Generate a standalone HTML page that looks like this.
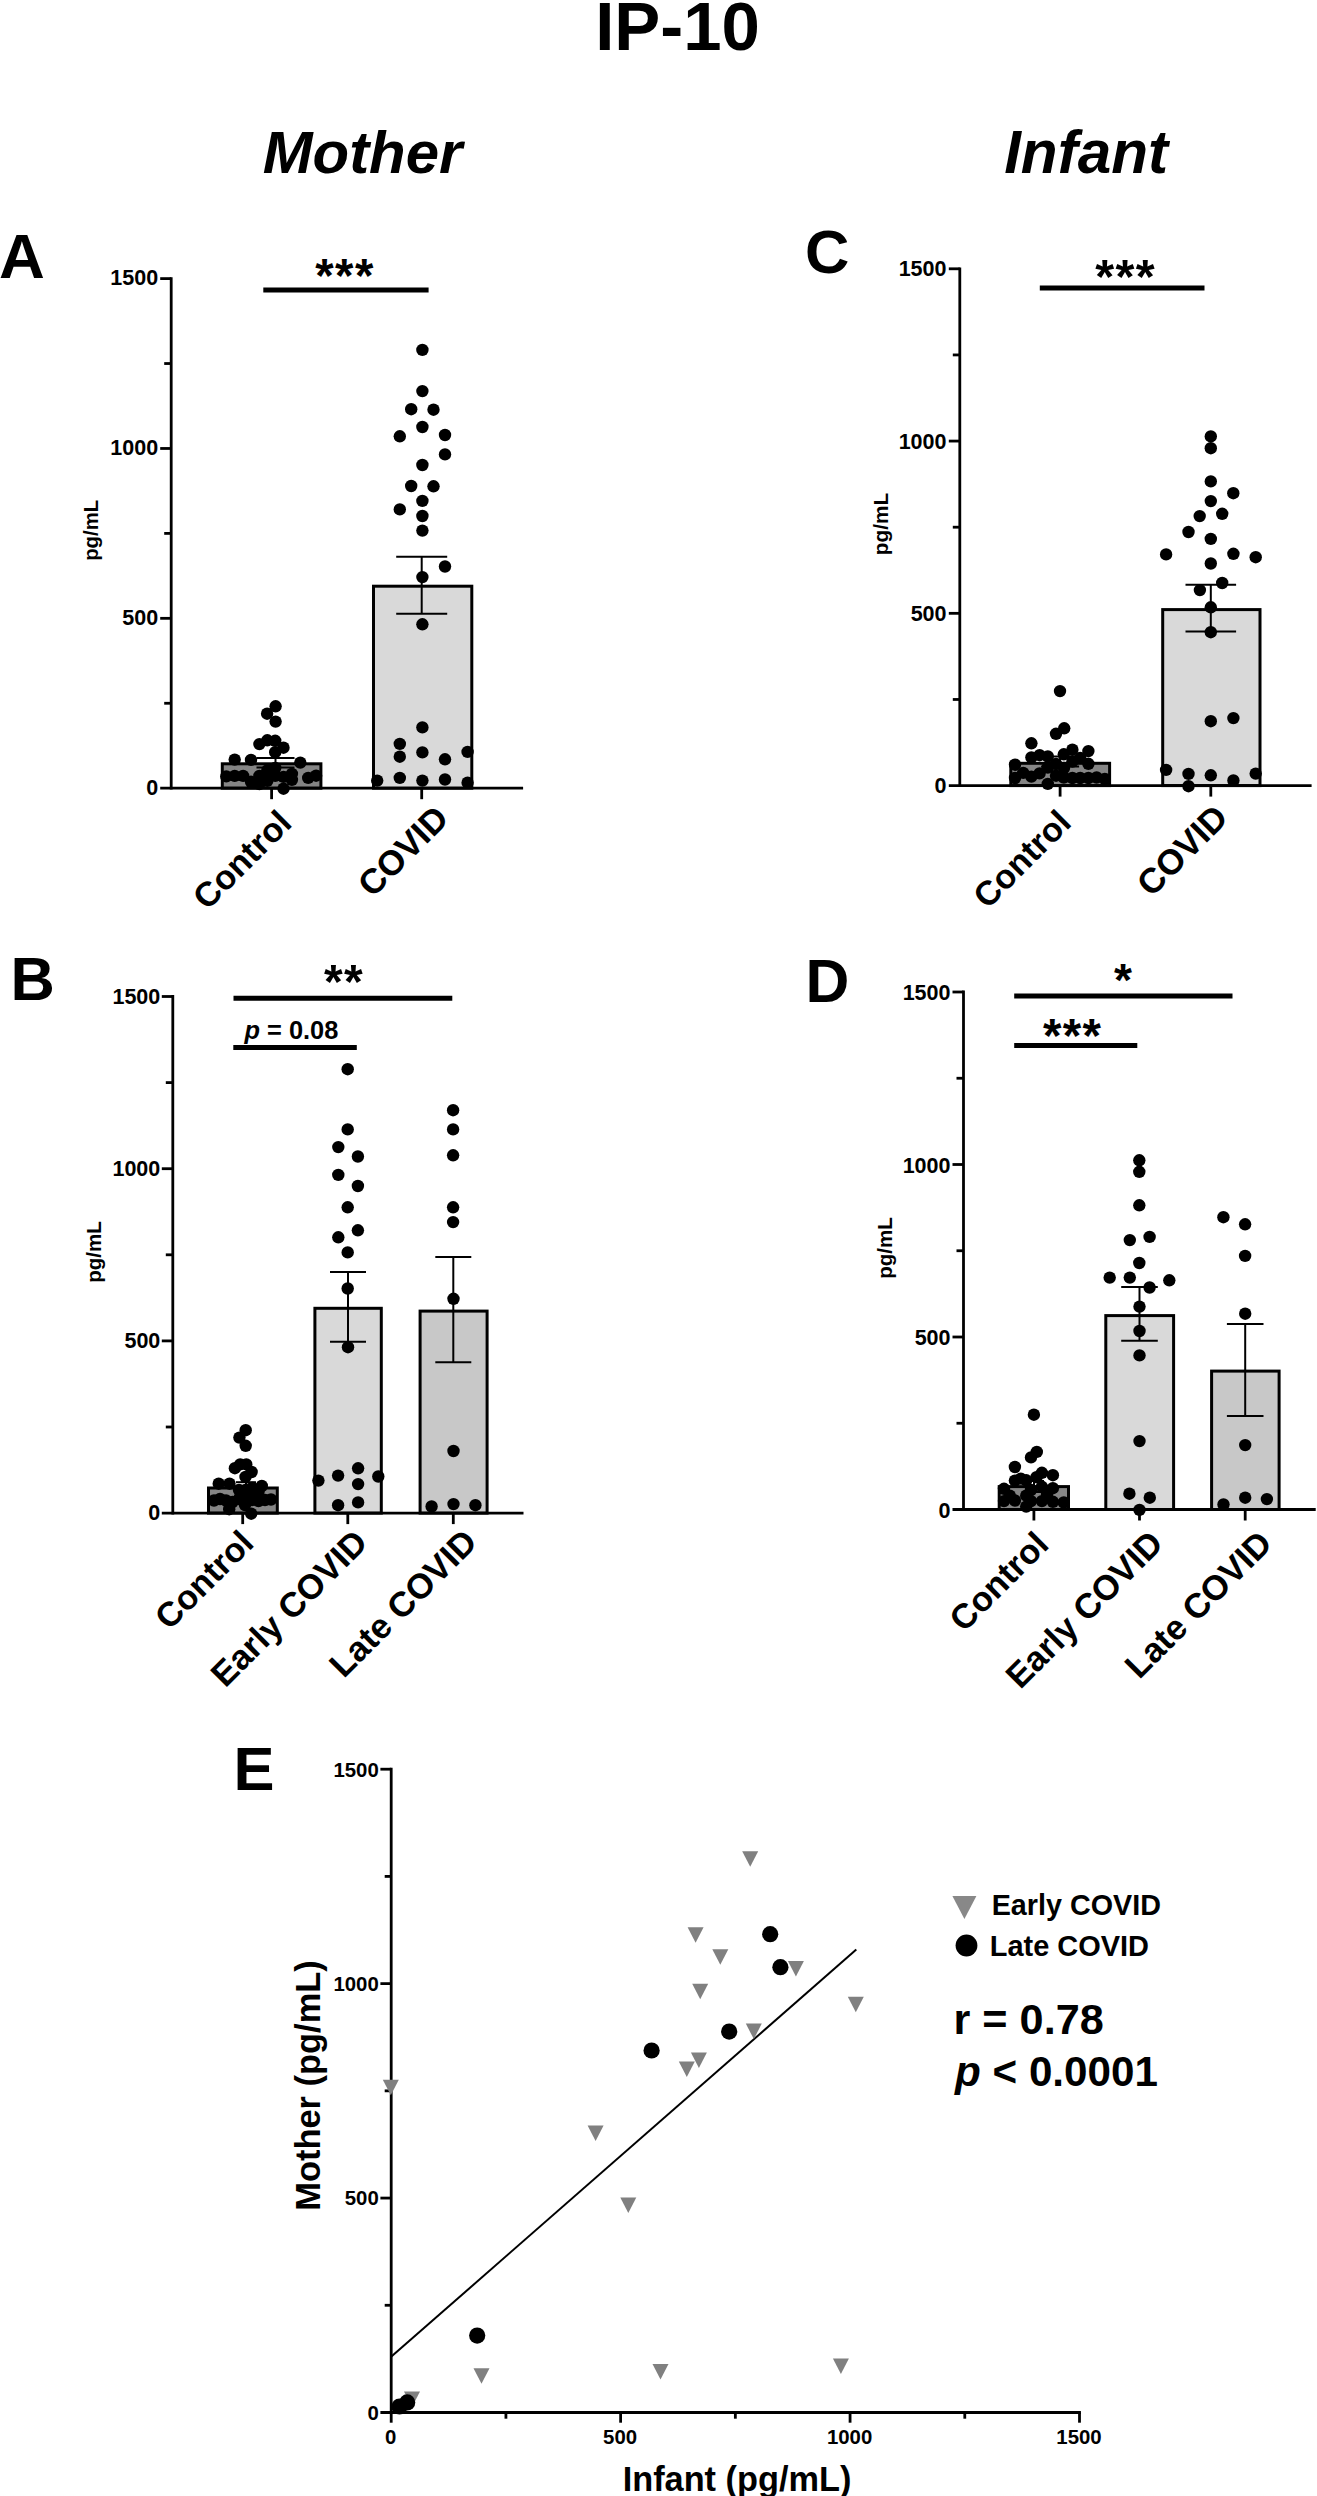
<!DOCTYPE html>
<html><head><meta charset="utf-8"><title>IP-10</title>
<style>
html,body{margin:0;padding:0;background:#fff;}
body{width:1317px;height:2496px;overflow:hidden;}
svg{display:block;}
#wrap{width:1317px;height:2496px;}
svg text{font-family:"Liberation Sans", Arial, sans-serif;font-weight:bold;fill:#000;}
</style></head><body>
<div id="wrap"><svg width="1317" height="2496" viewBox="0 0 1317 2496">
<rect x="0" y="0" width="1317" height="2496" fill="#fff"/>
<g>
<text id="title" x="677.5" y="49.8" font-size="68.91" text-anchor="middle">IP-10</text>
<text id="mother" x="362.5" y="172.5" font-size="59.91" text-anchor="middle" style="font-style:italic;">Mother</text>
<text id="infant" x="1086.1" y="172.6" font-size="60.22" text-anchor="middle" style="font-style:italic;">Infant</text>
<text id="lA" x="-1" y="277.7" font-size="63.41" text-anchor="start">A</text>
<text id="lC" x="805" y="273.3" font-size="61.41" text-anchor="start">C</text>
<text id="lB" x="10.5" y="1000.3" font-size="61.4" text-anchor="start">B</text>
<text id="lD" x="805.5" y="1001.8" font-size="60.7" text-anchor="start">D</text>
<text id="lE" x="233.5" y="1789.9" font-size="61.45" text-anchor="start">E</text>
<rect x="222.3" y="763.8" width="98.6" height="24.4" fill="#858585" stroke="#000" stroke-width="3"/>
<rect x="373.5" y="586.2" width="98.3" height="202" fill="#d9d9d9" stroke="#000" stroke-width="3"/>
<line x1="421.7" y1="556.7" x2="421.7" y2="613.7" stroke="#000" stroke-width="2" stroke-linecap="butt"/>
<line x1="396.2" y1="556.7" x2="447.2" y2="556.7" stroke="#000" stroke-width="2" stroke-linecap="butt"/>
<line x1="396.2" y1="613.7" x2="447.2" y2="613.7" stroke="#000" stroke-width="2" stroke-linecap="butt"/>
<line x1="275.5" y1="758" x2="275.5" y2="767.5" stroke="#000" stroke-width="2" stroke-linecap="butt"/>
<line x1="256.5" y1="758" x2="294.5" y2="758" stroke="#000" stroke-width="2" stroke-linecap="butt"/>
<line x1="256.5" y1="767.5" x2="294.5" y2="767.5" stroke="#000" stroke-width="2" stroke-linecap="butt"/>
<circle cx="422.4" cy="349.9" r="6.2" fill="#000"/>
<circle cx="422.4" cy="391.1" r="6.2" fill="#000"/>
<circle cx="411.2" cy="409.2" r="6.2" fill="#000"/>
<circle cx="433.5" cy="409.7" r="6.2" fill="#000"/>
<circle cx="422.4" cy="427" r="6.2" fill="#000"/>
<circle cx="399.8" cy="436.3" r="6.2" fill="#000"/>
<circle cx="445" cy="435" r="6.2" fill="#000"/>
<circle cx="445" cy="454.4" r="6.2" fill="#000"/>
<circle cx="422.4" cy="465" r="6.2" fill="#000"/>
<circle cx="411.2" cy="486" r="6.2" fill="#000"/>
<circle cx="433.5" cy="486.3" r="6.2" fill="#000"/>
<circle cx="422.4" cy="500.9" r="6.2" fill="#000"/>
<circle cx="399.8" cy="509.4" r="6.2" fill="#000"/>
<circle cx="422.4" cy="516" r="6.2" fill="#000"/>
<circle cx="422.4" cy="530.6" r="6.2" fill="#000"/>
<circle cx="445" cy="566.5" r="6.2" fill="#000"/>
<circle cx="422.4" cy="577.1" r="6.2" fill="#000"/>
<circle cx="422.4" cy="624.3" r="6.2" fill="#000"/>
<circle cx="422.4" cy="727.4" r="6.2" fill="#000"/>
<circle cx="399.8" cy="743.9" r="6.2" fill="#000"/>
<circle cx="399.8" cy="756.7" r="6.2" fill="#000"/>
<circle cx="422.4" cy="752.4" r="6.2" fill="#000"/>
<circle cx="445" cy="759.3" r="6.2" fill="#000"/>
<circle cx="467.6" cy="751.9" r="6.2" fill="#000"/>
<circle cx="377.2" cy="780.6" r="6.2" fill="#000"/>
<circle cx="399.8" cy="777.9" r="6.2" fill="#000"/>
<circle cx="422.4" cy="780.6" r="6.2" fill="#000"/>
<circle cx="445" cy="779.5" r="6.2" fill="#000"/>
<circle cx="467.6" cy="782.7" r="6.2" fill="#000"/>
<circle cx="275.6" cy="706.3" r="6.2" fill="#000"/>
<circle cx="267.1" cy="713.7" r="6.2" fill="#000"/>
<circle cx="275.6" cy="721.6" r="6.2" fill="#000"/>
<circle cx="259.4" cy="744.1" r="6.2" fill="#000"/>
<circle cx="267.3" cy="740.3" r="6.2" fill="#000"/>
<circle cx="275.2" cy="740.8" r="6.2" fill="#000"/>
<circle cx="283.5" cy="747.7" r="6.2" fill="#000"/>
<circle cx="275.2" cy="752.2" r="6.2" fill="#000"/>
<circle cx="234.7" cy="759.6" r="6.2" fill="#000"/>
<circle cx="251" cy="759.9" r="6.2" fill="#000"/>
<circle cx="300.3" cy="762.6" r="6.2" fill="#000"/>
<circle cx="226.3" cy="776.4" r="6.2" fill="#000"/>
<circle cx="234.7" cy="775.9" r="6.2" fill="#000"/>
<circle cx="243.1" cy="775.9" r="6.2" fill="#000"/>
<circle cx="251" cy="781.8" r="6.2" fill="#000"/>
<circle cx="259.4" cy="775.9" r="6.2" fill="#000"/>
<circle cx="267.3" cy="780.8" r="6.2" fill="#000"/>
<circle cx="275.2" cy="768" r="6.2" fill="#000"/>
<circle cx="275.2" cy="775.9" r="6.2" fill="#000"/>
<circle cx="283.5" cy="788.7" r="6.2" fill="#000"/>
<circle cx="283.5" cy="776.9" r="6.2" fill="#000"/>
<circle cx="291.9" cy="779.8" r="6.2" fill="#000"/>
<circle cx="291.9" cy="773.9" r="6.2" fill="#000"/>
<circle cx="308.2" cy="777.9" r="6.2" fill="#000"/>
<circle cx="316.1" cy="775.7" r="6.2" fill="#000"/>
<circle cx="267.3" cy="770.5" r="6.2" fill="#000"/>
<circle cx="259.4" cy="784" r="6.2" fill="#000"/>
<line x1="171.2" y1="277.2" x2="171.2" y2="789.6" stroke="#000" stroke-width="2.8" stroke-linecap="butt"/>
<line x1="160.2" y1="788.2" x2="523.1" y2="788.2" stroke="#000" stroke-width="2.8" stroke-linecap="butt"/>
<line x1="160.2" y1="618.33" x2="171.2" y2="618.33" stroke="#000" stroke-width="2.8" stroke-linecap="butt"/>
<line x1="160.2" y1="448.47" x2="171.2" y2="448.47" stroke="#000" stroke-width="2.8" stroke-linecap="butt"/>
<line x1="160.2" y1="278.6" x2="171.2" y2="278.6" stroke="#000" stroke-width="2.8" stroke-linecap="butt"/>
<line x1="164.2" y1="703.27" x2="171.2" y2="703.27" stroke="#000" stroke-width="2.8" stroke-linecap="butt"/>
<line x1="164.2" y1="533.4" x2="171.2" y2="533.4" stroke="#000" stroke-width="2.8" stroke-linecap="butt"/>
<line x1="164.2" y1="363.53" x2="171.2" y2="363.53" stroke="#000" stroke-width="2.8" stroke-linecap="butt"/>
<line x1="271.6" y1="788.2" x2="271.6" y2="799.2" stroke="#000" stroke-width="2.8" stroke-linecap="butt"/>
<line x1="421.7" y1="788.2" x2="421.7" y2="799.2" stroke="#000" stroke-width="2.8" stroke-linecap="butt"/>
<text id="A_t0" x="158.13" y="794.73" font-size="21.5" text-anchor="end">0</text>
<text id="A_t500" x="158.13" y="624.86" font-size="21.5" text-anchor="end">500</text>
<text id="A_t1000" x="158.13" y="455" font-size="21.5" text-anchor="end">1000</text>
<text id="A_t1500" x="158.13" y="285.13" font-size="21.5" text-anchor="end">1500</text>
<line x1="263.3" y1="290.1" x2="428.6" y2="290.1" stroke="#000" stroke-width="5" stroke-linecap="butt"/>
<text id="A_sig" x="345" y="291.5" font-size="47.3" text-anchor="middle" style="letter-spacing:1.4px;">***</text>
<text id="A_yl" x="97.8" y="530.3" font-size="20.34" text-anchor="middle" transform="rotate(-90 97.8 530.3)">pg/mL</text>
<text id="A_x1" x="293.5" y="825" font-size="34.37" text-anchor="end" transform="rotate(-45 293.5 825)">Control</text>
<text id="A_x2" x="450.5" y="820.5" font-size="34.84" text-anchor="end" transform="rotate(-45 450.5 820.5)">COVID</text>
<rect x="1010.8" y="763.3" width="98.8" height="22.3" fill="#858585" stroke="#000" stroke-width="3"/>
<rect x="1162.7" y="609.6" width="97.3" height="176" fill="#d9d9d9" stroke="#000" stroke-width="3"/>
<line x1="1210.8" y1="584.7" x2="1210.8" y2="631.6" stroke="#000" stroke-width="2" stroke-linecap="butt"/>
<line x1="1185.5" y1="584.7" x2="1236.1" y2="584.7" stroke="#000" stroke-width="2" stroke-linecap="butt"/>
<line x1="1185.5" y1="631.6" x2="1236.1" y2="631.6" stroke="#000" stroke-width="2" stroke-linecap="butt"/>
<line x1="1060.1" y1="756.5" x2="1060.1" y2="766.5" stroke="#000" stroke-width="2" stroke-linecap="butt"/>
<line x1="1041.1" y1="756.5" x2="1079.1" y2="756.5" stroke="#000" stroke-width="2" stroke-linecap="butt"/>
<line x1="1041.1" y1="766.5" x2="1079.1" y2="766.5" stroke="#000" stroke-width="2" stroke-linecap="butt"/>
<circle cx="1210.8" cy="436.4" r="6.2" fill="#000"/>
<circle cx="1210.8" cy="448.2" r="6.2" fill="#000"/>
<circle cx="1210.8" cy="481.4" r="6.2" fill="#000"/>
<circle cx="1233.3" cy="493.2" r="6.2" fill="#000"/>
<circle cx="1210.8" cy="501.1" r="6.2" fill="#000"/>
<circle cx="1199.7" cy="516.1" r="6.2" fill="#000"/>
<circle cx="1222.2" cy="513.8" r="6.2" fill="#000"/>
<circle cx="1188.5" cy="532" r="6.2" fill="#000"/>
<circle cx="1210.8" cy="538.9" r="6.2" fill="#000"/>
<circle cx="1166.1" cy="554.4" r="6.2" fill="#000"/>
<circle cx="1233.4" cy="553.8" r="6.2" fill="#000"/>
<circle cx="1255.7" cy="557.2" r="6.2" fill="#000"/>
<circle cx="1210.8" cy="563.5" r="6.2" fill="#000"/>
<circle cx="1222.2" cy="583" r="6.2" fill="#000"/>
<circle cx="1199.9" cy="590.1" r="6.2" fill="#000"/>
<circle cx="1210.8" cy="607.3" r="6.2" fill="#000"/>
<circle cx="1210.8" cy="632.2" r="6.2" fill="#000"/>
<circle cx="1210.8" cy="721.2" r="6.2" fill="#000"/>
<circle cx="1233.4" cy="718.1" r="6.2" fill="#000"/>
<circle cx="1166.1" cy="769.9" r="6.2" fill="#000"/>
<circle cx="1188.5" cy="773.9" r="6.2" fill="#000"/>
<circle cx="1210.8" cy="775.3" r="6.2" fill="#000"/>
<circle cx="1255.7" cy="773.6" r="6.2" fill="#000"/>
<circle cx="1233.4" cy="780.5" r="6.2" fill="#000"/>
<circle cx="1188.5" cy="786.2" r="6.2" fill="#000"/>
<circle cx="1060" cy="691.1" r="6.2" fill="#000"/>
<circle cx="1064.2" cy="728.3" r="6.2" fill="#000"/>
<circle cx="1056" cy="733.8" r="6.2" fill="#000"/>
<circle cx="1031.4" cy="743.3" r="6.2" fill="#000"/>
<circle cx="1072.4" cy="749.7" r="6.2" fill="#000"/>
<circle cx="1088.4" cy="751.1" r="6.2" fill="#000"/>
<circle cx="1031.4" cy="757.4" r="6.2" fill="#000"/>
<circle cx="1039.6" cy="755.2" r="6.2" fill="#000"/>
<circle cx="1047.8" cy="756.5" r="6.2" fill="#000"/>
<circle cx="1063.8" cy="754.3" r="6.2" fill="#000"/>
<circle cx="1080.2" cy="757.9" r="6.2" fill="#000"/>
<circle cx="1072.4" cy="761.5" r="6.2" fill="#000"/>
<circle cx="1088.4" cy="763.8" r="6.2" fill="#000"/>
<circle cx="1015" cy="764.7" r="6.2" fill="#000"/>
<circle cx="1015" cy="778" r="6.2" fill="#000"/>
<circle cx="1023.2" cy="772.9" r="6.2" fill="#000"/>
<circle cx="1031.4" cy="776.6" r="6.2" fill="#000"/>
<circle cx="1039.6" cy="773.4" r="6.2" fill="#000"/>
<circle cx="1047.8" cy="783.9" r="6.2" fill="#000"/>
<circle cx="1047.8" cy="767.5" r="6.2" fill="#000"/>
<circle cx="1056" cy="775.7" r="6.2" fill="#000"/>
<circle cx="1063.8" cy="777.5" r="6.2" fill="#000"/>
<circle cx="1072.4" cy="778" r="6.2" fill="#000"/>
<circle cx="1080.2" cy="778" r="6.2" fill="#000"/>
<circle cx="1088.4" cy="778" r="6.2" fill="#000"/>
<circle cx="1096.6" cy="777.5" r="6.2" fill="#000"/>
<circle cx="1104.8" cy="778.9" r="6.2" fill="#000"/>
<circle cx="1056" cy="764" r="6.2" fill="#000"/>
<circle cx="1064" cy="768" r="6.2" fill="#000"/>
<line x1="959.8" y1="267.4" x2="959.8" y2="787" stroke="#000" stroke-width="2.8" stroke-linecap="butt"/>
<line x1="948.8" y1="785.6" x2="1311.6" y2="785.6" stroke="#000" stroke-width="2.8" stroke-linecap="butt"/>
<line x1="948.8" y1="613.33" x2="959.8" y2="613.33" stroke="#000" stroke-width="2.8" stroke-linecap="butt"/>
<line x1="948.8" y1="441.07" x2="959.8" y2="441.07" stroke="#000" stroke-width="2.8" stroke-linecap="butt"/>
<line x1="948.8" y1="268.8" x2="959.8" y2="268.8" stroke="#000" stroke-width="2.8" stroke-linecap="butt"/>
<line x1="952.8" y1="699.47" x2="959.8" y2="699.47" stroke="#000" stroke-width="2.8" stroke-linecap="butt"/>
<line x1="952.8" y1="527.2" x2="959.8" y2="527.2" stroke="#000" stroke-width="2.8" stroke-linecap="butt"/>
<line x1="952.8" y1="354.93" x2="959.8" y2="354.93" stroke="#000" stroke-width="2.8" stroke-linecap="butt"/>
<line x1="1060.1" y1="785.6" x2="1060.1" y2="796.6" stroke="#000" stroke-width="2.8" stroke-linecap="butt"/>
<line x1="1210.8" y1="785.6" x2="1210.8" y2="796.6" stroke="#000" stroke-width="2.8" stroke-linecap="butt"/>
<text id="C_t0" x="946.5" y="793.13" font-size="21.5" text-anchor="end">0</text>
<text id="C_t500" x="946.5" y="620.86" font-size="21.5" text-anchor="end">500</text>
<text id="C_t1000" x="946.5" y="448.6" font-size="21.5" text-anchor="end">1000</text>
<text id="C_t1500" x="946.5" y="276.33" font-size="21.5" text-anchor="end">1500</text>
<line x1="1039.8" y1="287.9" x2="1204.5" y2="287.9" stroke="#000" stroke-width="5" stroke-linecap="butt"/>
<text id="C_sig" x="1125.7" y="293" font-size="48.54" text-anchor="middle" style="letter-spacing:1.4px;">***</text>
<text id="C_yl" x="887.5" y="524" font-size="20.8" text-anchor="middle" transform="rotate(-90 887.5 524)">pg/mL</text>
<text id="C_x1" x="1073" y="824.5" font-size="34.02" text-anchor="end" transform="rotate(-45 1073 824.5)">Control</text>
<text id="C_x2" x="1230" y="819.5" font-size="35.03" text-anchor="end" transform="rotate(-45 1230 819.5)">COVID</text>
<rect x="208.5" y="1488" width="68.8" height="25.1" fill="#858585" stroke="#000" stroke-width="3"/>
<rect x="314.9" y="1308.3" width="66.4" height="204.8" fill="#d9d9d9" stroke="#000" stroke-width="3"/>
<rect x="420.1" y="1311.1" width="67" height="202" fill="#c8c8c8" stroke="#000" stroke-width="3"/>
<line x1="348" y1="1272" x2="348" y2="1341.7" stroke="#000" stroke-width="2" stroke-linecap="butt"/>
<line x1="330" y1="1272" x2="366" y2="1272" stroke="#000" stroke-width="2" stroke-linecap="butt"/>
<line x1="330" y1="1341.7" x2="366" y2="1341.7" stroke="#000" stroke-width="2" stroke-linecap="butt"/>
<line x1="453.3" y1="1257" x2="453.3" y2="1362.2" stroke="#000" stroke-width="2" stroke-linecap="butt"/>
<line x1="435.3" y1="1257" x2="471.3" y2="1257" stroke="#000" stroke-width="2" stroke-linecap="butt"/>
<line x1="435.3" y1="1362.2" x2="471.3" y2="1362.2" stroke="#000" stroke-width="2" stroke-linecap="butt"/>
<line x1="246" y1="1482.2" x2="246" y2="1494" stroke="#000" stroke-width="2" stroke-linecap="butt"/>
<line x1="236" y1="1482.2" x2="256" y2="1482.2" stroke="#000" stroke-width="2" stroke-linecap="butt"/>
<line x1="236" y1="1494" x2="256" y2="1494" stroke="#000" stroke-width="2" stroke-linecap="butt"/>
<circle cx="347.7" cy="1069.2" r="6.2" fill="#000"/>
<circle cx="347.7" cy="1129.4" r="6.2" fill="#000"/>
<circle cx="338.3" cy="1147.1" r="6.2" fill="#000"/>
<circle cx="357.9" cy="1156.5" r="6.2" fill="#000"/>
<circle cx="338.3" cy="1174.9" r="6.2" fill="#000"/>
<circle cx="357.9" cy="1186" r="6.2" fill="#000"/>
<circle cx="347.7" cy="1207.3" r="6.2" fill="#000"/>
<circle cx="357.9" cy="1230.3" r="6.2" fill="#000"/>
<circle cx="338.3" cy="1237.3" r="6.2" fill="#000"/>
<circle cx="347.7" cy="1252.4" r="6.2" fill="#000"/>
<circle cx="347.7" cy="1288.5" r="6.2" fill="#000"/>
<circle cx="348" cy="1347.2" r="6.2" fill="#000"/>
<circle cx="358.1" cy="1468.3" r="6.2" fill="#000"/>
<circle cx="338.1" cy="1475.6" r="6.2" fill="#000"/>
<circle cx="378.3" cy="1476.5" r="6.2" fill="#000"/>
<circle cx="318.4" cy="1480.6" r="6.2" fill="#000"/>
<circle cx="358.1" cy="1484.1" r="6.2" fill="#000"/>
<circle cx="358.1" cy="1502.4" r="6.2" fill="#000"/>
<circle cx="338.1" cy="1505.2" r="6.2" fill="#000"/>
<circle cx="453.1" cy="1110.2" r="6.2" fill="#000"/>
<circle cx="453.1" cy="1129.4" r="6.2" fill="#000"/>
<circle cx="453.1" cy="1155.3" r="6.2" fill="#000"/>
<circle cx="453.1" cy="1207.3" r="6.2" fill="#000"/>
<circle cx="453.1" cy="1222.1" r="6.2" fill="#000"/>
<circle cx="453.5" cy="1298.8" r="6.2" fill="#000"/>
<circle cx="453.5" cy="1451" r="6.2" fill="#000"/>
<circle cx="431.6" cy="1506.5" r="6.2" fill="#000"/>
<circle cx="453.5" cy="1504.1" r="6.2" fill="#000"/>
<circle cx="475.4" cy="1505.2" r="6.2" fill="#000"/>
<circle cx="245.7" cy="1430.2" r="6.2" fill="#000"/>
<circle cx="239.4" cy="1437.6" r="6.2" fill="#000"/>
<circle cx="245.7" cy="1445.8" r="6.2" fill="#000"/>
<circle cx="234.9" cy="1468.2" r="6.2" fill="#000"/>
<circle cx="240.2" cy="1464.4" r="6.2" fill="#000"/>
<circle cx="246.3" cy="1464.4" r="6.2" fill="#000"/>
<circle cx="251.6" cy="1472" r="6.2" fill="#000"/>
<circle cx="245.5" cy="1476.9" r="6.2" fill="#000"/>
<circle cx="218.7" cy="1483.7" r="6.2" fill="#000"/>
<circle cx="229.5" cy="1483.7" r="6.2" fill="#000"/>
<circle cx="261.8" cy="1486" r="6.2" fill="#000"/>
<circle cx="214" cy="1500.5" r="6.2" fill="#000"/>
<circle cx="220" cy="1499" r="6.2" fill="#000"/>
<circle cx="226" cy="1500.5" r="6.2" fill="#000"/>
<circle cx="232.5" cy="1502" r="6.2" fill="#000"/>
<circle cx="239" cy="1499" r="6.2" fill="#000"/>
<circle cx="245.5" cy="1497" r="6.2" fill="#000"/>
<circle cx="252" cy="1500" r="6.2" fill="#000"/>
<circle cx="258.5" cy="1501" r="6.2" fill="#000"/>
<circle cx="265" cy="1500" r="6.2" fill="#000"/>
<circle cx="271" cy="1499.5" r="6.2" fill="#000"/>
<circle cx="229.2" cy="1509.2" r="6.2" fill="#000"/>
<circle cx="251.2" cy="1513.7" r="6.2" fill="#000"/>
<circle cx="245.5" cy="1490" r="6.2" fill="#000"/>
<circle cx="252" cy="1488" r="6.2" fill="#000"/>
<circle cx="239" cy="1490" r="6.2" fill="#000"/>
<circle cx="258.5" cy="1492" r="6.2" fill="#000"/>
<circle cx="245" cy="1505" r="6.2" fill="#000"/>
<line x1="172.8" y1="995.1" x2="172.8" y2="1514.5" stroke="#000" stroke-width="2.8" stroke-linecap="butt"/>
<line x1="161.8" y1="1513.1" x2="523.5" y2="1513.1" stroke="#000" stroke-width="2.8" stroke-linecap="butt"/>
<line x1="161.8" y1="1340.9" x2="172.8" y2="1340.9" stroke="#000" stroke-width="2.8" stroke-linecap="butt"/>
<line x1="161.8" y1="1168.7" x2="172.8" y2="1168.7" stroke="#000" stroke-width="2.8" stroke-linecap="butt"/>
<line x1="161.8" y1="996.5" x2="172.8" y2="996.5" stroke="#000" stroke-width="2.8" stroke-linecap="butt"/>
<line x1="165.8" y1="1427" x2="172.8" y2="1427" stroke="#000" stroke-width="2.8" stroke-linecap="butt"/>
<line x1="165.8" y1="1254.8" x2="172.8" y2="1254.8" stroke="#000" stroke-width="2.8" stroke-linecap="butt"/>
<line x1="165.8" y1="1082.6" x2="172.8" y2="1082.6" stroke="#000" stroke-width="2.8" stroke-linecap="butt"/>
<line x1="242.7" y1="1513.1" x2="242.7" y2="1524.1" stroke="#000" stroke-width="2.8" stroke-linecap="butt"/>
<line x1="347.8" y1="1513.1" x2="347.8" y2="1524.1" stroke="#000" stroke-width="2.8" stroke-linecap="butt"/>
<line x1="453.3" y1="1513.1" x2="453.3" y2="1524.1" stroke="#000" stroke-width="2.8" stroke-linecap="butt"/>
<text id="B_t0" x="160.3" y="1520.3" font-size="21.5" text-anchor="end">0</text>
<text id="B_t500" x="160.3" y="1348.1" font-size="21.5" text-anchor="end">500</text>
<text id="B_t1000" x="160.3" y="1175.9" font-size="21.5" text-anchor="end">1000</text>
<text id="B_t1500" x="160.3" y="1003.7" font-size="21.5" text-anchor="end">1500</text>
<line x1="233.5" y1="998.2" x2="452.3" y2="998.2" stroke="#000" stroke-width="5" stroke-linecap="butt"/>
<line x1="233.3" y1="1047.6" x2="356.8" y2="1047.6" stroke="#000" stroke-width="5" stroke-linecap="butt"/>
<text id="B_sig" x="344.1" y="998" font-size="48.02" text-anchor="middle" style="letter-spacing:1.4px;">**</text>
<text id="B_p" x="244.5" y="1039.3" font-size="25.39" text-anchor="start"><tspan font-style="italic">p</tspan><tspan> = 0.08</tspan></text>
<text id="B_yl" x="101" y="1252" font-size="20.57" text-anchor="middle" transform="rotate(-90 101 1252)">pg/mL</text>
<text id="B_x1" x="255.5" y="1545" font-size="34.35" text-anchor="end" transform="rotate(-45 255.5 1545)">Control</text>
<text id="B_x2" x="369.5" y="1544.5" font-size="34.67" text-anchor="end" transform="rotate(-45 369.5 1544.5)">Early COVID</text>
<text id="B_x3" x="479" y="1544" font-size="34.76" text-anchor="end" transform="rotate(-45 479 1544)">Late COVID</text>
<rect x="999.2" y="1486.6" width="69.3" height="22.9" fill="#858585" stroke="#000" stroke-width="3"/>
<rect x="1105.8" y="1315.6" width="67.8" height="193.9" fill="#d9d9d9" stroke="#000" stroke-width="3"/>
<rect x="1211.6" y="1371.1" width="67.5" height="138.4" fill="#c8c8c8" stroke="#000" stroke-width="3"/>
<line x1="1139.5" y1="1287.1" x2="1139.5" y2="1340.8" stroke="#000" stroke-width="2" stroke-linecap="butt"/>
<line x1="1121.2" y1="1287.1" x2="1157.8" y2="1287.1" stroke="#000" stroke-width="2" stroke-linecap="butt"/>
<line x1="1121.2" y1="1340.8" x2="1157.8" y2="1340.8" stroke="#000" stroke-width="2" stroke-linecap="butt"/>
<line x1="1245.2" y1="1324" x2="1245.2" y2="1415.9" stroke="#000" stroke-width="2" stroke-linecap="butt"/>
<line x1="1226.9" y1="1324" x2="1263.5" y2="1324" stroke="#000" stroke-width="2" stroke-linecap="butt"/>
<line x1="1226.9" y1="1415.9" x2="1263.5" y2="1415.9" stroke="#000" stroke-width="2" stroke-linecap="butt"/>
<line x1="1034" y1="1481" x2="1034" y2="1492" stroke="#000" stroke-width="2" stroke-linecap="butt"/>
<line x1="1024" y1="1481" x2="1044" y2="1481" stroke="#000" stroke-width="2" stroke-linecap="butt"/>
<line x1="1024" y1="1492" x2="1044" y2="1492" stroke="#000" stroke-width="2" stroke-linecap="butt"/>
<circle cx="1139.3" cy="1160.3" r="6.2" fill="#000"/>
<circle cx="1139.3" cy="1171.8" r="6.2" fill="#000"/>
<circle cx="1139.3" cy="1205.3" r="6.2" fill="#000"/>
<circle cx="1129.8" cy="1240.1" r="6.2" fill="#000"/>
<circle cx="1149.6" cy="1236.9" r="6.2" fill="#000"/>
<circle cx="1139.3" cy="1263" r="6.2" fill="#000"/>
<circle cx="1109.7" cy="1277.6" r="6.2" fill="#000"/>
<circle cx="1129.8" cy="1277.6" r="6.2" fill="#000"/>
<circle cx="1169.3" cy="1280.3" r="6.2" fill="#000"/>
<circle cx="1149.6" cy="1287.5" r="6.2" fill="#000"/>
<circle cx="1139.5" cy="1306.6" r="6.2" fill="#000"/>
<circle cx="1139.5" cy="1331" r="6.2" fill="#000"/>
<circle cx="1139.5" cy="1355.4" r="6.2" fill="#000"/>
<circle cx="1139.5" cy="1441.1" r="6.2" fill="#000"/>
<circle cx="1129.4" cy="1493.7" r="6.2" fill="#000"/>
<circle cx="1149.8" cy="1497.7" r="6.2" fill="#000"/>
<circle cx="1139.5" cy="1509.9" r="6.2" fill="#000"/>
<circle cx="1223.4" cy="1217.2" r="6.2" fill="#000"/>
<circle cx="1245.1" cy="1224.3" r="6.2" fill="#000"/>
<circle cx="1245.1" cy="1255.9" r="6.2" fill="#000"/>
<circle cx="1245.2" cy="1313.7" r="6.2" fill="#000"/>
<circle cx="1245.2" cy="1445.1" r="6.2" fill="#000"/>
<circle cx="1223.5" cy="1504.5" r="6.2" fill="#000"/>
<circle cx="1245.2" cy="1497.7" r="6.2" fill="#000"/>
<circle cx="1266.9" cy="1499.1" r="6.2" fill="#000"/>
<circle cx="1033.9" cy="1414.7" r="6.2" fill="#000"/>
<circle cx="1036.8" cy="1451.9" r="6.2" fill="#000"/>
<circle cx="1031" cy="1457.4" r="6.2" fill="#000"/>
<circle cx="1014.9" cy="1467" r="6.2" fill="#000"/>
<circle cx="1041.9" cy="1472.8" r="6.2" fill="#000"/>
<circle cx="1052.9" cy="1475.2" r="6.2" fill="#000"/>
<circle cx="1014.9" cy="1480.6" r="6.2" fill="#000"/>
<circle cx="1020.8" cy="1478.6" r="6.2" fill="#000"/>
<circle cx="1026.2" cy="1480.3" r="6.2" fill="#000"/>
<circle cx="1036.5" cy="1477.2" r="6.2" fill="#000"/>
<circle cx="1041.9" cy="1486.8" r="6.2" fill="#000"/>
<circle cx="1052.9" cy="1488.2" r="6.2" fill="#000"/>
<circle cx="1004" cy="1488.8" r="6.2" fill="#000"/>
<circle cx="1004" cy="1501.1" r="6.2" fill="#000"/>
<circle cx="1014.9" cy="1500.5" r="6.2" fill="#000"/>
<circle cx="1026.2" cy="1506.6" r="6.2" fill="#000"/>
<circle cx="1031" cy="1501.1" r="6.2" fill="#000"/>
<circle cx="1041.9" cy="1501.1" r="6.2" fill="#000"/>
<circle cx="1052.9" cy="1501.8" r="6.2" fill="#000"/>
<circle cx="1063.8" cy="1502.5" r="6.2" fill="#000"/>
<circle cx="1026.2" cy="1495.7" r="6.2" fill="#000"/>
<circle cx="1009.8" cy="1495.7" r="6.2" fill="#000"/>
<circle cx="1031" cy="1490" r="6.2" fill="#000"/>
<circle cx="1047" cy="1495" r="6.2" fill="#000"/>
<line x1="963.5" y1="990.6" x2="963.5" y2="1510.9" stroke="#000" stroke-width="2.8" stroke-linecap="butt"/>
<line x1="952.5" y1="1509.5" x2="1315.7" y2="1509.5" stroke="#000" stroke-width="2.8" stroke-linecap="butt"/>
<line x1="952.5" y1="1337" x2="963.5" y2="1337" stroke="#000" stroke-width="2.8" stroke-linecap="butt"/>
<line x1="952.5" y1="1164.5" x2="963.5" y2="1164.5" stroke="#000" stroke-width="2.8" stroke-linecap="butt"/>
<line x1="952.5" y1="992" x2="963.5" y2="992" stroke="#000" stroke-width="2.8" stroke-linecap="butt"/>
<line x1="956.5" y1="1423.25" x2="963.5" y2="1423.25" stroke="#000" stroke-width="2.8" stroke-linecap="butt"/>
<line x1="956.5" y1="1250.75" x2="963.5" y2="1250.75" stroke="#000" stroke-width="2.8" stroke-linecap="butt"/>
<line x1="956.5" y1="1078.25" x2="963.5" y2="1078.25" stroke="#000" stroke-width="2.8" stroke-linecap="butt"/>
<line x1="1033.9" y1="1509.5" x2="1033.9" y2="1520.5" stroke="#000" stroke-width="2.8" stroke-linecap="butt"/>
<line x1="1139.5" y1="1509.5" x2="1139.5" y2="1520.5" stroke="#000" stroke-width="2.8" stroke-linecap="butt"/>
<line x1="1245.2" y1="1509.5" x2="1245.2" y2="1520.5" stroke="#000" stroke-width="2.8" stroke-linecap="butt"/>
<text id="D_t0" x="950.5" y="1517.7" font-size="21.5" text-anchor="end">0</text>
<text id="D_t500" x="950.5" y="1345.2" font-size="21.5" text-anchor="end">500</text>
<text id="D_t1000" x="950.5" y="1172.7" font-size="21.5" text-anchor="end">1000</text>
<text id="D_t1500" x="950.5" y="1000.2" font-size="21.5" text-anchor="end">1500</text>
<line x1="1014.2" y1="996.1" x2="1232.5" y2="996.1" stroke="#000" stroke-width="5" stroke-linecap="butt"/>
<line x1="1014.2" y1="1045.4" x2="1137.3" y2="1045.4" stroke="#000" stroke-width="5" stroke-linecap="butt"/>
<text id="D_sig1" x="1123.1" y="995.5" font-size="46.2" text-anchor="middle">*</text>
<text id="D_sig2" x="1072.7" y="1051.5" font-size="47.38" text-anchor="middle" style="letter-spacing:1.4px;">***</text>
<text id="D_yl" x="892" y="1248" font-size="20.57" text-anchor="middle" transform="rotate(-90 892 1248)">pg/mL</text>
<text id="D_x1" x="1050.5" y="1546.5" font-size="34.51" text-anchor="end" transform="rotate(-45 1050.5 1546.5)">Control</text>
<text id="D_x2" x="1165" y="1545.5" font-size="34.77" text-anchor="end" transform="rotate(-45 1165 1545.5)">Early COVID</text>
<text id="D_x3" x="1274" y="1545.5" font-size="34.65" text-anchor="end" transform="rotate(-45 1274 1545.5)">Late COVID</text>
<line x1="391.2" y1="1767.8" x2="391.2" y2="2413.9" stroke="#000" stroke-width="2.8" stroke-linecap="butt"/>
<line x1="380.4" y1="2412.5" x2="1080.9" y2="2412.5" stroke="#000" stroke-width="2.8" stroke-linecap="butt"/>
<line x1="380.4" y1="2198.07" x2="391.2" y2="2198.07" stroke="#000" stroke-width="2.8" stroke-linecap="butt"/>
<line x1="380.4" y1="1983.63" x2="391.2" y2="1983.63" stroke="#000" stroke-width="2.8" stroke-linecap="butt"/>
<line x1="380.4" y1="1769.2" x2="391.2" y2="1769.2" stroke="#000" stroke-width="2.8" stroke-linecap="butt"/>
<line x1="384.7" y1="2305.28" x2="391.2" y2="2305.28" stroke="#000" stroke-width="2.8" stroke-linecap="butt"/>
<line x1="384.7" y1="2090.85" x2="391.2" y2="2090.85" stroke="#000" stroke-width="2.8" stroke-linecap="butt"/>
<line x1="384.7" y1="1876.42" x2="391.2" y2="1876.42" stroke="#000" stroke-width="2.8" stroke-linecap="butt"/>
<line x1="391.2" y1="2412.5" x2="391.2" y2="2422.7" stroke="#000" stroke-width="2.8" stroke-linecap="butt"/>
<line x1="620.63" y1="2412.5" x2="620.63" y2="2422.7" stroke="#000" stroke-width="2.8" stroke-linecap="butt"/>
<line x1="850.07" y1="2412.5" x2="850.07" y2="2422.7" stroke="#000" stroke-width="2.8" stroke-linecap="butt"/>
<line x1="1079.5" y1="2412.5" x2="1079.5" y2="2422.7" stroke="#000" stroke-width="2.8" stroke-linecap="butt"/>
<line x1="505.92" y1="2412.5" x2="505.92" y2="2418.7" stroke="#000" stroke-width="2.8" stroke-linecap="butt"/>
<line x1="735.35" y1="2412.5" x2="735.35" y2="2418.7" stroke="#000" stroke-width="2.8" stroke-linecap="butt"/>
<line x1="964.78" y1="2412.5" x2="964.78" y2="2418.7" stroke="#000" stroke-width="2.8" stroke-linecap="butt"/>
<text id="E_yt0" x="378.8" y="2419.8" font-size="20.4" text-anchor="end">0</text>
<text id="E_yt500" x="378.8" y="2205.37" font-size="20.4" text-anchor="end">500</text>
<text id="E_yt1000" x="378.8" y="1990.94" font-size="20.4" text-anchor="end">1000</text>
<text id="E_yt1500" x="378.8" y="1776.5" font-size="20.4" text-anchor="end">1500</text>
<text id="E_xt0" x="390.7" y="2444.15" font-size="20.4" text-anchor="middle">0</text>
<text id="E_xt500" x="620.13" y="2444.15" font-size="20.4" text-anchor="middle">500</text>
<text id="E_xt1000" x="849.57" y="2444.15" font-size="20.4" text-anchor="middle">1000</text>
<text id="E_xt1500" x="1079" y="2444.15" font-size="20.4" text-anchor="middle">1500</text>
<line x1="391.4" y1="2356.6" x2="856.3" y2="1949.6" stroke="#000" stroke-width="2" stroke-linecap="butt"/>
<polygon points="742.2,1851.2 758.2,1851.2 750.2,1866.7" fill="#808080"/>
<polygon points="687.6,1927.3 703.6,1927.3 695.6,1942.8" fill="#808080"/>
<polygon points="712.3,1949.2 728.3,1949.2 720.3,1964.7" fill="#808080"/>
<polygon points="787.9,1961 803.9,1961 795.9,1976.5" fill="#808080"/>
<polygon points="692.2,1983.8 708.2,1983.8 700.2,1999.3" fill="#808080"/>
<polygon points="847.8,1996.8 863.8,1996.8 855.8,2012.3" fill="#808080"/>
<polygon points="745.8,2023.6 761.8,2023.6 753.8,2039.1" fill="#808080"/>
<polygon points="690.9,2052.5 706.9,2052.5 698.9,2068" fill="#808080"/>
<polygon points="678.8,2061.6 694.8,2061.6 686.8,2077.1" fill="#808080"/>
<polygon points="587.6,2125.4 603.6,2125.4 595.6,2140.9" fill="#808080"/>
<polygon points="620.3,2197.6 636.3,2197.6 628.3,2213.1" fill="#808080"/>
<polygon points="382.8,2079.8 398.8,2079.8 390.8,2095.3" fill="#808080"/>
<polygon points="473.5,2368.2 489.5,2368.2 481.5,2383.7" fill="#808080"/>
<polygon points="652.5,2363.9 668.5,2363.9 660.5,2379.4" fill="#808080"/>
<polygon points="832.9,2358.4 848.9,2358.4 840.9,2373.9" fill="#808080"/>
<polygon points="404,2391.5 420,2391.5 412,2407" fill="#808080"/>
<circle cx="770.2" cy="1934.2" r="8.1" fill="#000"/>
<circle cx="780.4" cy="1967.2" r="8.1" fill="#000"/>
<circle cx="729.2" cy="2031.6" r="8.1" fill="#000"/>
<circle cx="651.6" cy="2050.5" r="8.1" fill="#000"/>
<circle cx="477.2" cy="2335.6" r="8.1" fill="#000"/>
<circle cx="399.5" cy="2406.5" r="8.1" fill="#000"/>
<circle cx="407.2" cy="2402.4" r="8.1" fill="#000"/>
<text id="E_xl" x="737" y="2490.5" font-size="34.32" text-anchor="middle">Infant (pg/mL)</text>
<text id="E_yl" x="319.8" y="2085.5" font-size="34.45" text-anchor="middle" transform="rotate(-90 319.8 2085.5)">Mother (pg/mL)</text>
<polygon points="952.4,1896.1 976.4,1896.1 964.4,1918.9" fill="#888888"/>
<circle cx="966.5" cy="1945.5" r="10.9" fill="#000"/>
<text id="E_lg1" x="991.7" y="1914.6" font-size="28.72" text-anchor="start">Early COVID</text>
<text id="E_lg2" x="989.7" y="1955.9" font-size="28.98" text-anchor="start">Late COVID</text>
<text id="E_r" x="953.5" y="2034.3" font-size="43.24" text-anchor="start">r = 0.78</text>
<text id="E_p" x="955" y="2086" font-size="42.21" text-anchor="start"><tspan font-style="italic">p</tspan><tspan> &lt; 0.0001</tspan></text>
</g>
</svg></div>
</body></html>
